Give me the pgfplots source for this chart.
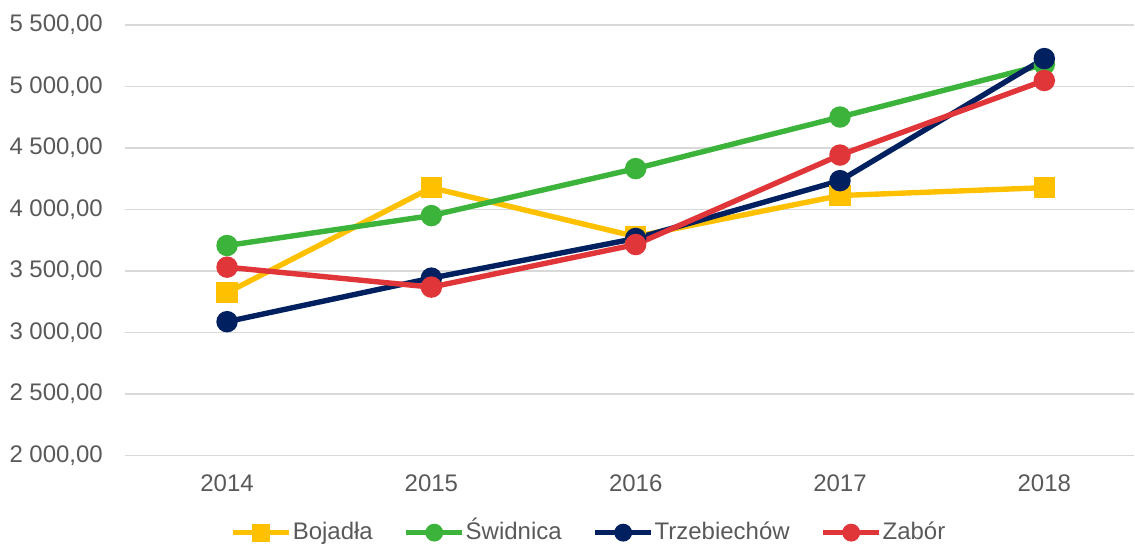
\documentclass[border=0pt]{standalone}
\usepackage{fontspec}
\setmainfont{Liberation Sans}
\usepackage{pgfplots}
\pgfplotsset{compat=1.18}
\definecolor{txtgray}{HTML}{595959}
\definecolor{gridgray}{HTML}{D9D9D9}
\definecolor{cBoj}{HTML}{FFC000}
\definecolor{cSwi}{HTML}{3CB43C}
\definecolor{cTrz}{HTML}{002060}
\definecolor{cZab}{HTML}{E0363A}
\begin{document}
\begin{tikzpicture}[font=\fontsize{12}{14}\selectfont]
\begin{axis}[
    scale only axis,
    width=505pt, height=215.5pt,
    xmin=-0.5, xmax=4.44,
    ymin=2000, ymax=5500,
    ytick={2000,2500,...,5500},
    xtick=data,
    xticklabels={2014,2015,2016,2017,2018},
    axis x line*=bottom,
    axis y line*=left,
    y axis line style={draw=none},
    x axis line style={gridgray, line width=0.8pt, -},
    ymajorgrids,
    grid style={gridgray, line width=0.8pt},
    major tick length=0pt,
    tick label style={txtgray},
    xticklabel style={yshift=-6pt},
    yticklabel style={xshift=-7.5pt},
    /pgf/number format/.cd, fixed, fixed zerofill, precision=2, use comma, 1000 sep={\ }, assume math mode=true,
    /pgfplots/.cd,
    every axis plot/.append style={line width=2.7pt},
    legend columns=4,
    legend style={at={(232pt,-38.5pt)}, anchor=center, draw=none, fill=none,
        text=txtgray, /tikz/every even column/.append style={column sep=15pt},
        nodes={inner sep=0.5pt, text depth=0.3ex, text height=1.6ex}},
    legend image code/.code={
        \draw[mark repeat=2,mark phase=2,line width=2.5pt,mark options={scale=0.8}] plot coordinates {(0pt,0pt) (14pt,0pt) (28pt,0pt)};
    },
]
\addplot[cBoj, mark=square*, mark size=4pt] coordinates {
(0,3325) (1,4178) (2,3781) (3,4114) (4,4178)};
\addlegendentry{Bojadła}
\addplot[cSwi, mark=*, mark size=4pt] coordinates {
(0,3708) (1,3951) (2,4333) (3,4752) (4,5179)};
\addlegendentry{Świdnica}
\addplot[cTrz, mark=*, mark size=4pt] coordinates {
(0,3089) (1,3443) (2,3765) (3,4235) (4,5227)};
\addlegendentry{Trzebiechów}
\addplot[cZab, mark=*, mark size=4pt] coordinates {
(0,3532) (1,3370) (2,3716) (3,4443) (4,5049)};
\addlegendentry{Zabór}
\end{axis}
\path[use as bounding box] (-62.5pt,-44.5pt) rectangle (505pt,228pt);
\end{tikzpicture}
\end{document}
